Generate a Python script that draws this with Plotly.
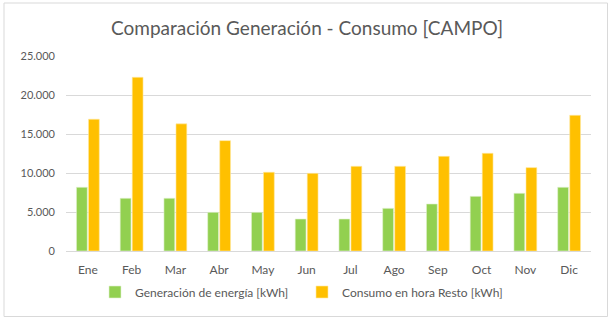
import plotly.graph_objects as go

months = ["Ene", "Feb", "Mar", "Abr", "May", "Jun", "Jul", "Ago", "Sep", "Oct", "Nov", "Dic"]
generacion = [8170, 6760, 6760, 4960, 4960, 4100, 4100, 5470, 6030, 7010, 7400, 8170]
consumo = [16900, 22270, 16300, 14150, 10100, 9960, 10860, 10860, 12140, 12530, 10690, 17400]

W, H = 614, 325
ml, mr, mt, mb = 66, 23, 56, 74
pw, ph = W - ml - mr, H - mt - mb

def px_x(x):
    return (x - ml) / pw

def px_y(y):
    return (H - mb - y) / ph

fig = go.Figure()
fig.add_trace(go.Bar(x=months, y=generacion, name="Generación de energía [kWh]",
                     marker=dict(color="#92D050", line=dict(color="#E2F2D0", width=0.6))))
fig.add_trace(go.Bar(x=months, y=consumo, name="Consumo en hora Resto [kWh]",
                     marker=dict(color="#FFC000", line=dict(color="#FFE9A6", width=0.6))))

font_family = "Lato, 'Open Sans', sans-serif"
fig.update_layout(
    width=W, height=H,
    margin=dict(l=ml, r=mr, t=mt, b=mb),
    paper_bgcolor="white", plot_bgcolor="white",
    barmode="group", bargap=0.45, bargroupgap=0.1,
    title=dict(text="Comparación Generación - Consumo [CAMPO]",
               x=0.5, xanchor="center", y=1 - 28 / H, yanchor="middle",
               font=dict(family=font_family, size=19, color="#595959")),
    font=dict(family=font_family, color="#595959"),
    showlegend=True,
    legend=dict(orientation="h", x=px_x(95), xanchor="left", y=px_y(292), yanchor="middle",
                font=dict(size=12, color="#595959"), itemwidth=30, traceorder="normal",
                entrywidthmode="pixels", entrywidth=162),
    xaxis=dict(showgrid=False, showline=True, linecolor="#D9D9D9", linewidth=1,
               ticks="", tickfont=dict(size=12, color="#595959"), ticklabelstandoff=8),
    yaxis=dict(range=[0, 25000], dtick=5000, tickformat=",d", showgrid=True,
               gridcolor="#D9D9D9", gridwidth=1, zeroline=False, showline=False,
               ticks="", tickfont=dict(size=11, color="#595959"), ticklabelstandoff=10),
    separators=",.",
    shapes=[dict(type="rect", xref="paper", yref="paper",
                 x0=px_x(4), x1=px_x(607.5), y0=px_y(316.5), y1=px_y(3),
                 line=dict(color="#D9D9D9", width=1), layer="below")],
)

fig.write_html("out.html")
